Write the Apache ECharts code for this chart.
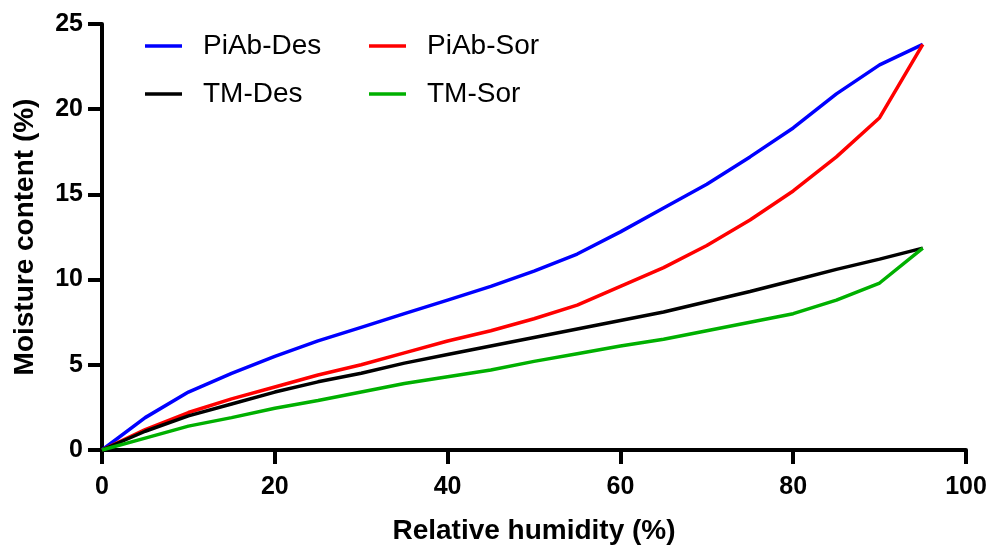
<!DOCTYPE html>
<html>
<head>
<meta charset="utf-8">
<script src="https://cdn.jsdelivr.net/npm/echarts@6/dist/echarts.min.js"></script>
<style>
  html, body { margin: 0; padding: 0; background: #ffffff; }
  #chart { width: 991px; height: 550px; }
</style>
</head>
<body>
<div id="chart"></div>
<script>
  // relative humidity (%)
  var rh = [0, 5, 10, 15, 20, 25, 30, 35, 40, 45, 50, 55, 60, 65, 70, 75, 80, 85, 90, 95];
  // moisture content (%)
  var piAbDes = [0, 1.9, 3.4, 4.5, 5.5, 6.4, 7.2, 8.0, 8.8, 9.6, 10.5, 11.5, 12.8, 14.2, 15.6, 17.2, 18.9, 20.9, 22.6, 23.8];
  var piAbSor = [0, 1.2, 2.2, 3.0, 3.7, 4.4, 5.0, 5.7, 6.4, 7.0, 7.7, 8.5, 9.6, 10.7, 12.0, 13.5, 15.2, 17.2, 19.5, 23.8];
  var tmDes = [0, 1.1, 2.0, 2.7, 3.4, 4.0, 4.5, 5.1, 5.6, 6.1, 6.6, 7.1, 7.6, 8.1, 8.7, 9.3, 9.95, 10.6, 11.2, 11.85];
  var tmSor = [0, 0.7, 1.4, 1.9, 2.45, 2.9, 3.4, 3.9, 4.3, 4.7, 5.2, 5.65, 6.1, 6.5, 7.0, 7.5, 8.0, 8.8, 9.8, 11.85];

  function pairs(ys) {
    return rh.map(function (x, i) { return [x, ys[i]]; });
  }

  var chartDom = document.getElementById('chart');
  var myChart = echarts.init(chartDom, null, { renderer: 'canvas' });
  var font = 'Liberation Sans, Arial, sans-serif';

  var lineSeries = function (name, color, ys) {
    return {
      name: name,
      type: 'line',
      data: pairs(ys),
      symbol: 'none',
      lineStyle: { color: color, width: 3.5 },
      itemStyle: { color: color },
      z: 3
    };
  };

  var legendBase = {
    orient: 'vertical',
    top: 27,
    itemWidth: 37,
    itemHeight: 3.5,
    itemGap: 20,
    icon: 'rect',
    textStyle: {
      fontFamily: font,
      fontSize: 28,
      color: '#000',
      lineHeight: 28,
      padding: [0, 0, 0, 16]
    }
  };

  var option = {
    backgroundColor: '#ffffff',
    animation: false,
    grid: { left: 102, right: 25, top: 24, bottom: 100 },
    legend: [
      Object.assign({}, legendBase, { left: 140, data: ['PiAb-Des', 'TM-Des'] }),
      Object.assign({}, legendBase, { left: 364, data: ['PiAb-Sor', 'TM-Sor'] })
    ],
    xAxis: {
      type: 'value',
      min: 0,
      max: 100,
      interval: 20,
      name: 'Relative humidity (%)',
      nameLocation: 'middle',
      nameGap: 67,
      nameTextStyle: { fontFamily: font, fontSize: 28, fontWeight: 'bold', color: '#000' },
      axisLine: { show: true, lineStyle: { color: '#000', width: 4 } },
      axisTick: { show: true, length: 14, lineStyle: { color: '#000', width: 4 } },
      axisLabel: { fontFamily: font, fontSize: 25, fontWeight: 'bold', color: '#000', margin: 25 },
      splitLine: { show: false }
    },
    yAxis: {
      type: 'value',
      min: 0,
      max: 25,
      interval: 5,
      name: 'Moisture content (%)',
      nameLocation: 'middle',
      nameGap: 63,
      nameTextStyle: { fontFamily: font, fontSize: 28, fontWeight: 'bold', color: '#000' },
      axisLine: { show: true, lineStyle: { color: '#000', width: 4 } },
      axisTick: { show: true, length: 14, lineStyle: { color: '#000', width: 4 } },
      axisLabel: { fontFamily: font, fontSize: 25, fontWeight: 'bold', color: '#000', margin: 19 },
      splitLine: { show: false }
    },
    series: [
      lineSeries('PiAb-Des', '#0000ff', piAbDes),
      lineSeries('PiAb-Sor', '#ff0000', piAbSor),
      lineSeries('TM-Des', '#000000', tmDes),
      lineSeries('TM-Sor', '#00b000', tmSor)
    ]
  };

  option && myChart.setOption(option);
</script>
</body>
</html>
